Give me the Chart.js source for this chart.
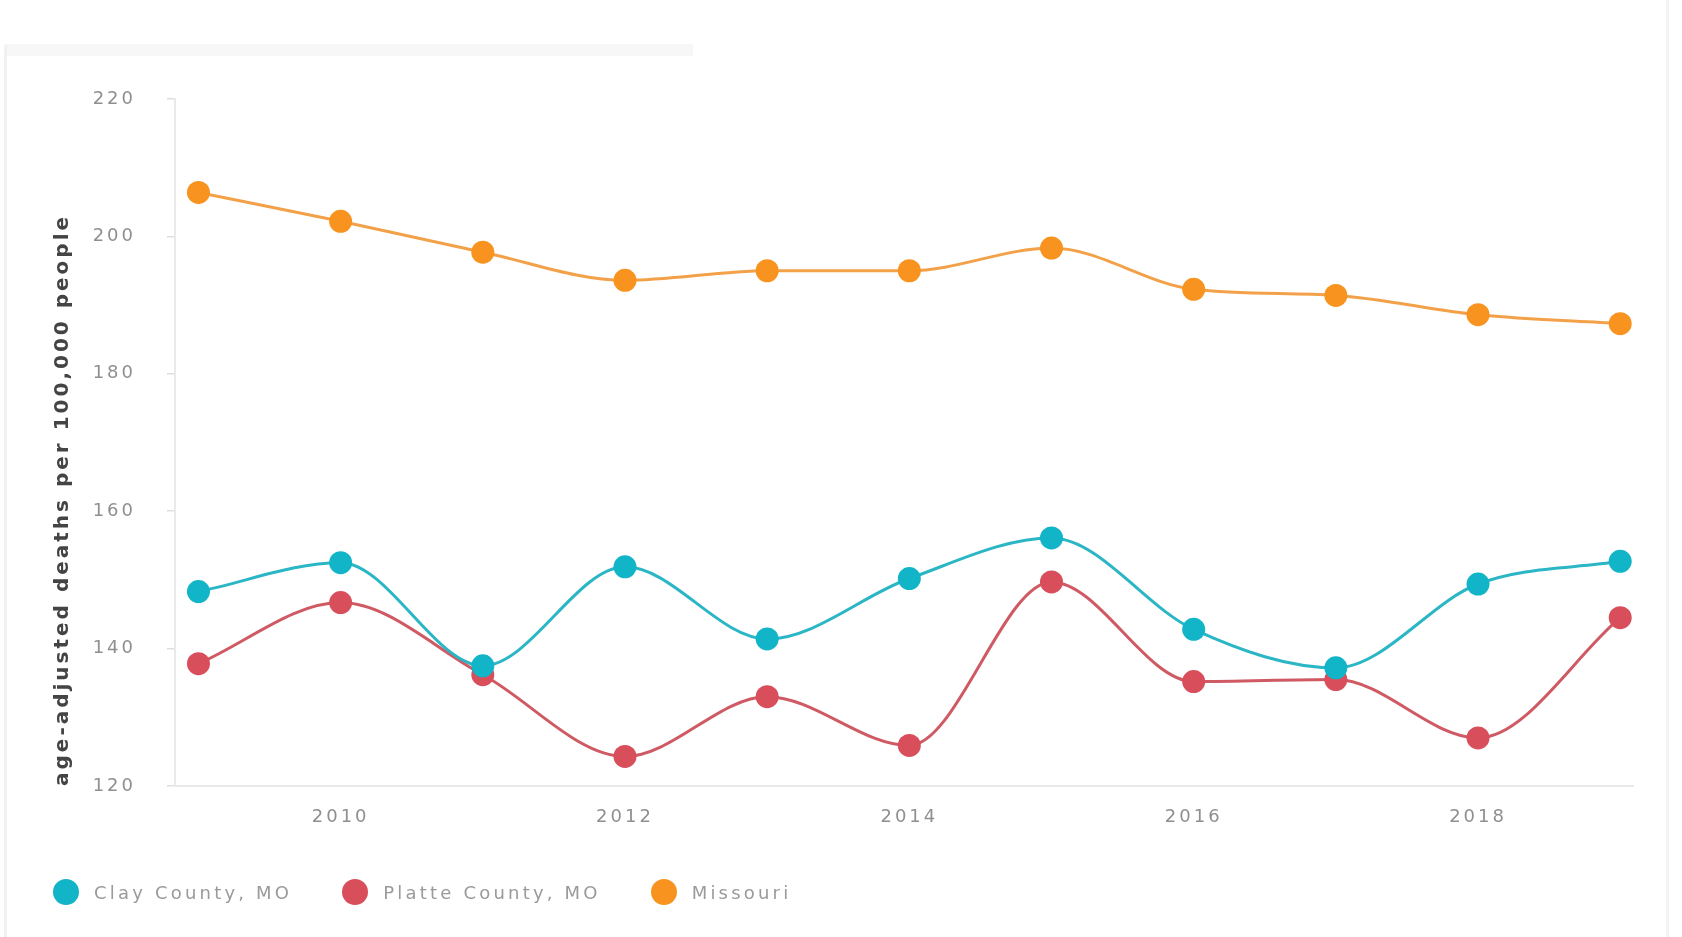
<!DOCTYPE html>
<html>
<head>
<meta charset="utf-8">
<title>Age-adjusted death rates</title>
<script src="https://cdn.jsdelivr.net/npm/chart.js@4/dist/chart.umd.min.js"></script>
<style>
  html, body { margin: 0; padding: 0; background: #fff; }
  #wrap { position: relative; width: 1682px; height: 937px; overflow: hidden; }
  #chartBox { position: absolute; left: 0; top: 0; width: 1682px; height: 937px; }
  .frame-left { position: absolute; left: 4px; top: 45px; bottom: 0; width: 3px; background: #f1f1f1; }
  .frame-right { position: absolute; left: 1666px; top: 0; bottom: 0; width: 3px; background: #f3f3f3; }
  .frame-top { position: absolute; left: 5px; top: 44px; width: 688px; height: 12px; background: #f7f7f7; }
  #legend { position: absolute; left: 53px; top: 879px; display: flex; align-items: center;
            font-family: "DejaVu Sans", sans-serif; font-size: 18px; letter-spacing: 3.2px; color: #9a9a9a; }
  #legend .item { display: flex; align-items: center; margin-right: 50px; }
  #legend .dot { width: 26px; height: 26px; border-radius: 50%; margin-right: 15px; }
</style>
</head>
<body>
<div id="wrap">
  <div class="frame-top"></div>
  <div class="frame-left"></div>
  <div class="frame-right"></div>
  <div id="chartBox"><canvas id="deathChart"></canvas></div>
  <div id="legend"></div>
</div>
<script>
// years on the x axis and the even years that get a label
const years = [2009, 2010, 2011, 2012, 2013, 2014, 2015, 2016, 2017, 2018, 2019];
const tickYears = [2010, 2012, 2014, 2016, 2018];
const yTicks = [120, 140, 160, 180, 200, 220];

// age-adjusted deaths per 100,000 people
const clayCounty = [148.3, 152.5, 137.5, 151.9, 141.4, 150.2, 156.1, 142.8, 137.2, 149.4, 152.7];
const platteCounty = [137.8, 146.7, 136.2, 124.3, 133.0, 125.9, 149.7, 135.2, 135.5, 127.0, 144.5];
const missouri = [206.4, 202.2, 197.7, 193.6, 195.0, 195.0, 198.3, 192.3, 191.4, 188.6, 187.3];

const seriesNames = ["Clay County, MO", "Platte County, MO", "Missouri"];
const lineColors = ["#2bb6c6", "#cf5a63", "#f3a148"];
const dotColors = ["#12b4c7", "#d84e5b", "#f7931e"];

function toPoints(values) {
  return values.map((v, i) => ({ x: years[i], y: v }));
}

// wide tracking on all canvas text (the context state is lost on resize, so set it each pass)
const trackedText = {
  id: "trackedText",
  beforeUpdate(chart) { chart.ctx.letterSpacing = "3px"; },
  beforeLayout(chart) { chart.ctx.letterSpacing = "3px"; },
  beforeDraw(chart) { chart.ctx.letterSpacing = "3px"; }
};

const seriesValues = [clayCounty, platteCounty, missouri];
const datasets = seriesValues.map((vals, i) => ({
  label: seriesNames[i],
  data: toPoints(vals),
  borderColor: lineColors[i],
  backgroundColor: dotColors[i],
  pointBackgroundColor: dotColors[i],
  pointBorderColor: dotColors[i],
  pointBorderWidth: 0,
  pointRadius: 11.5,
  borderWidth: 3,
  cubicInterpolationMode: "monotone",
  fill: false
}));

const ctx = document.getElementById("deathChart").getContext("2d");
const chart = new Chart(ctx, {
  type: "line",
  data: { datasets: datasets },
  options: {
    responsive: true,
    maintainAspectRatio: false,
    animation: false,
    layout: { padding: { top: 99, right: 49, bottom: 101, left: 0 } },
    plugins: {
      legend: { display: false },
      tooltip: { enabled: false }
    },
    scales: {
      x: {
        type: "linear",
        min: 2008.835,
        max: 2019.09,
        afterBuildTicks(scale) {
          scale.ticks = tickYears.map(v => ({ value: v }));
        },
        afterFit(scale) { scale.height = 50; },
        grid: { display: false, drawTicks: false },
        border: { display: true, color: "#e9e9e9", width: 2 },
        ticks: {
          padding: 21,
          color: "#8f8f8f",
          font: { family: "DejaVu Sans", size: 18 },
          callback: v => String(v)
        }
      },
      y: {
        min: 120,
        max: 220,
        afterBuildTicks(scale) {
          scale.ticks = yTicks.map(v => ({ value: v }));
        },
        afterFit(scale) { scale.width = 175; },
        grid: {
          display: true,
          drawOnChartArea: false,
          drawTicks: true,
          tickLength: 8,
          color: "#dedede",
          lineWidth: 1.5
        },
        border: { display: true, color: "#e9e9e9", width: 2 },
        ticks: {
          padding: 31,
          color: "#8f8f8f",
          font: { family: "DejaVu Sans", size: 18 }
        },
        title: {
          display: true,
          text: "age-adjusted deaths per 100,000 people",
          align: "start",
          color: "#444",
          font: { family: "DejaVu Sans", size: 20, weight: "bold" },
          padding: { top: 51, bottom: 4 }
        }
      }
    }
  },
  plugins: [trackedText]
});

// legend row under the chart, built from the datasets
const legendEl = document.getElementById("legend");
chart.data.datasets.forEach(ds => {
  const item = document.createElement("div");
  item.className = "item";
  const dot = document.createElement("span");
  dot.className = "dot";
  dot.style.background = ds.pointBackgroundColor;
  const label = document.createElement("span");
  label.textContent = ds.label;
  item.appendChild(dot);
  item.appendChild(label);
  legendEl.appendChild(item);
});
</script>
</body>
</html>
